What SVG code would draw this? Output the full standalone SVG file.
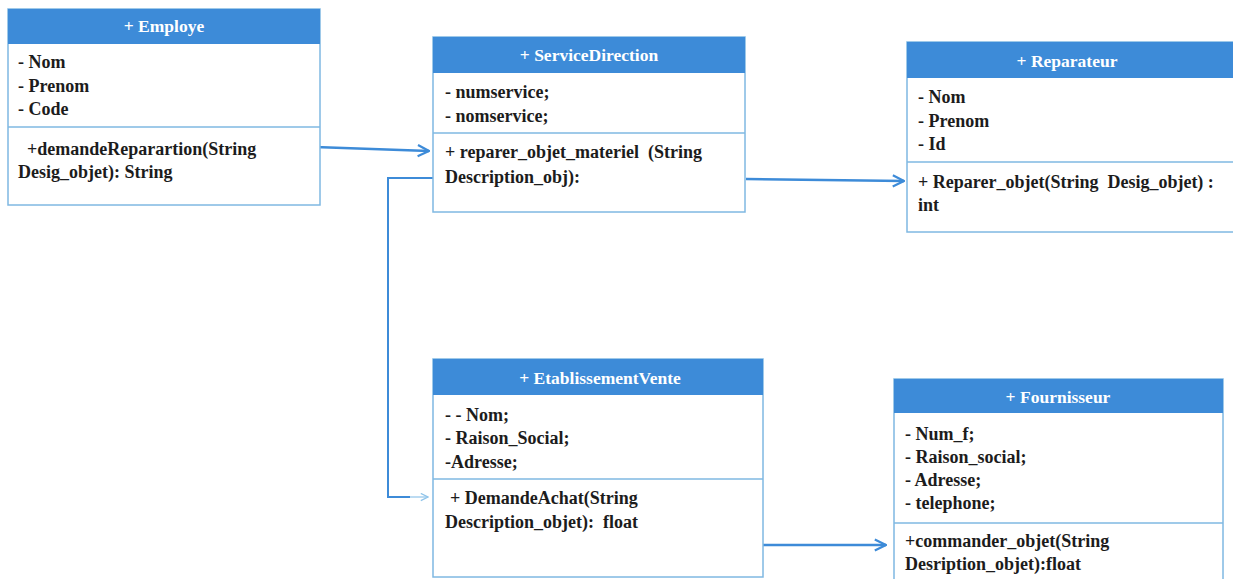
<svg xmlns="http://www.w3.org/2000/svg" width="1233" height="579" viewBox="0 0 1233 579">
  <defs>
    <style>
      .box { fill: #ffffff; stroke: #7fb8e2; stroke-width: 1.5; }
      .head { fill: #3d8bd8; }
      .sep { stroke: #7fb8e2; stroke-width: 1.5; }
      .title { font-family: "Liberation Serif", serif; font-weight: bold; font-size: 17.5px; fill: #ffffff; text-anchor: middle; }
      .txt { font-family: "Liberation Serif", serif; font-weight: bold; font-size: 18px; fill: #1c1c1c; }
      .link { fill: none; stroke: #3d8bd8; stroke-width: 2.5; }
      .thin { fill: none; stroke: #3d8bd8; stroke-width: 2; }
    </style>
    <marker id="arrow" viewBox="0 0 10 10" refX="9" refY="5" markerWidth="14" markerHeight="14" markerUnits="userSpaceOnUse" orient="auto">
      <path d="M1,1 L9,5 L1,9" fill="none" stroke="#3d8bd8" stroke-width="1.6"/>
    </marker>
    <marker id="arrowLight" viewBox="0 0 10 10" refX="9" refY="5" markerWidth="9" markerHeight="9" markerUnits="userSpaceOnUse" orient="auto">
      <path d="M1,1 L9,5 L1,9" fill="none" stroke="#8fc4ea" stroke-width="1.4"/>
    </marker>
  </defs>

  <rect width="1233" height="579" fill="#ffffff"/>

  <!-- connectors -->
  <g id="connectors">
    <path class="link" d="M315,147 L429,151" marker-end="url(#arrow)"/>
    <path class="link" d="M746,179 L904,181" marker-end="url(#arrow)"/>
    <path class="thin" d="M433,178 L388,178 L388,497 L410,497"/>
    <path d="M410,497 L428,497" fill="none" stroke="#8fc4ea" stroke-width="1.2" marker-end="url(#arrowLight)"/>
    <path class="link" d="M763,545 L886,545" marker-end="url(#arrow)"/>
  </g>

  <!-- Employe -->
  <g id="employe">
    <rect class="box" x="8" y="9" width="312" height="196"/>
    <rect class="head" x="8" y="9" width="312" height="35"/>
    <text class="title" x="164" y="32">+ Employe</text>
    <line class="sep" x1="8" y1="127" x2="320" y2="127"/>
    <text class="txt" x="18" y="68">- Nom</text>
    <text class="txt" x="18" y="92">- Prenom</text>
    <text class="txt" x="18" y="115">- Code</text>
    <text class="txt" x="27" y="155">+demandeReparartion(String</text>
    <text class="txt" x="18" y="178">Desig_objet): String</text>
  </g>

  <!-- ServiceDirection -->
  <g id="servicedirection">
    <rect class="box" x="433" y="37" width="312" height="175"/>
    <rect class="head" x="433" y="37" width="312" height="36"/>
    <text class="title" x="589" y="61">+ ServiceDirection</text>
    <line class="sep" x1="433" y1="133" x2="745" y2="133"/>
    <text class="txt" x="445" y="98">- numservice;</text>
    <text class="txt" x="445" y="122">- nomservice;</text>
    <text class="txt" x="445" y="158" xml:space="preserve">+ reparer_objet_materiel  (String</text>
    <text class="txt" x="445" y="183">Description_obj):</text>
  </g>

  <!-- Reparateur -->
  <g id="reparateur">
    <rect class="box" x="907" y="42" width="330" height="190"/>
    <rect class="head" x="907" y="42" width="330" height="36"/>
    <text class="title" x="1067" y="67">+ Reparateur</text>
    <line class="sep" x1="907" y1="162" x2="1237" y2="162"/>
    <text class="txt" x="918" y="103">- Nom</text>
    <text class="txt" x="918" y="127">- Prenom</text>
    <text class="txt" x="918" y="150">- Id</text>
    <text class="txt" x="918" y="188" xml:space="preserve">+ Reparer_objet(String  Desig_objet) :</text>
    <text class="txt" x="918" y="211">int</text>
  </g>

  <!-- EtablissementVente -->
  <g id="etablissementvente">
    <rect class="box" x="433" y="359" width="330" height="218"/>
    <rect class="head" x="433" y="359" width="330" height="36"/>
    <text class="title" x="600" y="384">+ EtablissementVente</text>
    <line class="sep" x1="433" y1="479" x2="763" y2="479"/>
    <text class="txt" x="445" y="421">- - Nom;</text>
    <text class="txt" x="445" y="444">- Raison_Social;</text>
    <text class="txt" x="445" y="468">-Adresse;</text>
    <text class="txt" x="450" y="504">+ DemandeAchat(String</text>
    <text class="txt" x="445" y="528" xml:space="preserve">Description_objet):  float</text>
  </g>

  <!-- Fournisseur -->
  <g id="fournisseur">
    <rect class="box" x="894" y="379" width="329" height="210"/>
    <rect class="head" x="894" y="379" width="329" height="34"/>
    <text class="title" x="1058" y="403">+ Fournisseur</text>
    <line class="sep" x1="894" y1="523" x2="1223" y2="523"/>
    <text class="txt" x="905" y="440">- Num_f;</text>
    <text class="txt" x="905" y="463">- Raison_social;</text>
    <text class="txt" x="905" y="486">- Adresse;</text>
    <text class="txt" x="905" y="509">- telephone;</text>
    <text class="txt" x="905" y="547">+commander_objet(String</text>
    <text class="txt" x="905" y="570">Desription_objet):float</text>
  </g>
</svg>
